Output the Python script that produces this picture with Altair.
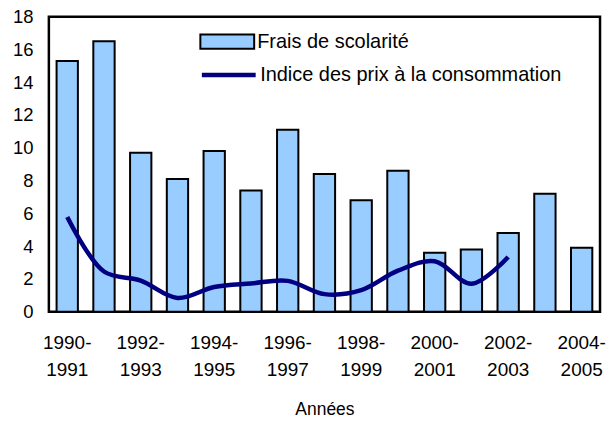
import altair as alt
import pandas as pd

years = ["1990-1991", "1991-1992", "1992-1993", "1993-1994", "1994-1995",
         "1995-1996", "1996-1997", "1997-1998", "1998-1999", "1999-2000",
         "2000-2001", "2001-2002", "2002-2003", "2003-2004", "2004-2005"]
frais = [15.3, 16.5, 9.7, 8.1, 9.8, 7.4, 11.1, 8.4, 6.8, 8.6, 3.6, 3.8, 4.8, 7.2, 3.9]
ipc_years = years[:13]
ipc = [5.77, 2.45, 1.9, 0.84, 1.51, 1.72, 1.88, 1.07, 1.31, 2.5, 3.08, 1.7, 3.34]
y_ticks = [0, 2, 4, 6, 8, 10, 12, 14, 16, 18]

label_bar = "Frais de scolarité"
label_line = "Indice des prix à la consommation"

bars_df = pd.DataFrame({"annee": years, "valeur": frais, "serie": label_bar})
line_df = pd.DataFrame({"annee": ipc_years, "valeur": ipc, "serie": label_line})

FONT = "Liberation Sans"

x_axis = alt.Axis(
    title="Années",
    labelAngle=0,
    ticks=False,
    domain=False,
    labelFont=FONT,
    labelFontSize=19,
    labelColor="black",
    labelPadding=22,
    labelBaseline="top",
    labelLineHeight=27,
    labelExpr="parseInt(substring(datum.value,0,4)) % 2 == 0 ? [substring(datum.value,0,5), substring(datum.value,5,9)] : ''",
    titleFont=FONT,
    titleFontSize=17.5,
    titleFontWeight="normal",
    titleColor="black",
    titlePadding=21,
    labelOverlap=False,
)

y_axis = alt.Axis(
    title=None,
    values=y_ticks,
    grid=False,
    ticks=False,
    domain=False,
    labelFont=FONT,
    labelFontSize=18.5,
    labelColor="black",
    labelPadding=16,
    labelOverlap=False,
)

x_scale = alt.Scale(domain=years, paddingInner=0.42, paddingOuter=0.21)
y_scale = alt.Scale(domain=[0, 18], nice=False, zero=True)

bars = alt.Chart(bars_df).mark_bar(
    stroke="black", strokeWidth=2
).encode(
    x=alt.X("annee:N", sort=years, scale=x_scale, axis=x_axis),
    y=alt.Y("valeur:Q", scale=y_scale, axis=y_axis),
    fill=alt.Fill(
        "serie:N",
        scale=alt.Scale(domain=[label_bar], range=["#99CCFF"]),
        legend=alt.Legend(
            title=None,
            orient="none",
            legendX=169,
            legendY=15,
            padding=0,
            symbolType="M-3,-0.8H3V0.8H-3Z",
            symbolSize=324,
            symbolStrokeColor="black",
            symbolStrokeWidth=2,
            symbolFillColor="#99CCFF",
            labelOffset=20,
            labelFont=FONT,
            labelFontSize=20,
            labelColor="black",
            labelLimit=400,
        ),
    ),
)

line = alt.Chart(line_df).mark_line(
    interpolate="catmull-rom", strokeWidth=4.5
).encode(
    x=alt.X("annee:N", sort=years, scale=x_scale, axis=x_axis),
    y=alt.Y("valeur:Q", scale=y_scale, axis=y_axis),
    stroke=alt.Stroke(
        "serie:N",
        scale=alt.Scale(domain=[label_line], range=["#000080"]),
        legend=alt.Legend(
            title=None,
            orient="none",
            legendX=169,
            legendY=47,
            padding=0,
            symbolType="M-3,0H3",
            symbolSize=324,
            symbolStrokeWidth=4.5,
            labelOffset=20,
            labelFont=FONT,
            labelFontSize=20,
            labelColor="black",
            labelLimit=400,
        ),
    ),
)

chart = alt.layer(bars, line).resolve_legend(
    fill="independent", stroke="independent"
).properties(
    width=553,
    height=296,
    background="white",
    autosize=alt.AutoSizeParams(type="none"),
    padding={"left": 41, "top": 8, "right": 7, "bottom": 107},
).configure_view(
    stroke="black", strokeWidth=2.5
).configure_axis(
    labelOverlap=False
)

chart.save("out.html", embed_options={"renderer": "svg", "actions": False})
